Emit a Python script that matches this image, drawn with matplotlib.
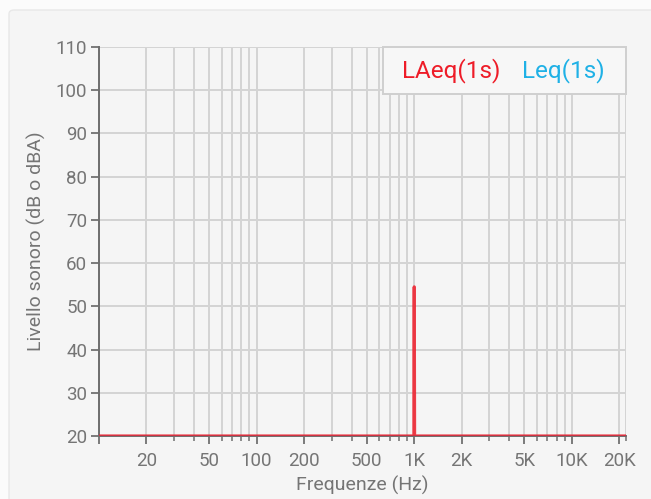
import matplotlib.pyplot as plt
from matplotlib.patches import FancyBboxPatch, Rectangle
from matplotlib.ticker import FixedLocator, NullFormatter

plt.rcParams['font.family'] = ['Roboto', 'DejaVu Sans']

# dati dello spettro (tono a 1 kHz)
frequenze = [10, 995, 1000, 1005, 22050]
laeq = [20, 20, 54.5, 20, 20]
leq = [20, 20, 20, 20, 20]

serie = ['LAeq(1s)', 'Leq(1s)']

tick_maggiori = [10, 20, 50, 100, 200, 500, 1000, 2000, 5000, 10000, 20000]
etichette = ['', '20', '50', '100', '200', '500', '1K', '2K', '5K', '10K', '20K']
tick_minori = [30, 40, 60, 70, 80, 90, 300, 400, 600, 700, 800, 900,
               3000, 4000, 6000, 7000, 8000, 9000, 22050]

rosso = '#ee1c28'
azzurro = '#1fb1e6'
grigio_testo = '#757575'

fig = plt.figure(figsize=(6.51, 4.99), dpi=100, facecolor='#fbfbfb')
card = FancyBboxPatch((9 / 651, -0.05), 1.05, 1 - 10 / 499 + 0.05,
                      boxstyle='round,pad=0,rounding_size=0.008',
                      transform=fig.transFigure, facecolor='#f5f5f5',
                      edgecolor='#e8e8e8', linewidth=1.0, zorder=-10)
fig.patches.append(card)

ax = fig.add_axes([99 / 651, 1 - 436 / 499, (626 - 99) / 651, (436 - 47) / 499])
ax.set_facecolor('#f5f5f5')

ax.plot(frequenze, leq, color=azzurro, linewidth=2, zorder=3)
ax.plot(frequenze, laeq, color=rosso, linewidth=2.3, alpha=0.85, zorder=4)

ax.set_xscale('log')
ax.set_xlim(10, 22050)
ax.set_ylim(20, 110)
ax.set_yticks(range(20, 111, 10))

ax.xaxis.set_major_locator(FixedLocator(tick_maggiori))
ax.set_xticklabels(etichette)
ax.xaxis.set_minor_locator(FixedLocator(tick_minori))
ax.xaxis.set_minor_formatter(NullFormatter())

ax.grid(True, which='both', color='#d4d4d4', linewidth=1.4, zorder=1)
ax.set_axisbelow(True)

for lato in ['top', 'right']:
    ax.spines[lato].set_visible(False)
for lato in ['left', 'bottom']:
    ax.spines[lato].set_color('#6e6e6e')
    ax.spines[lato].set_linewidth(1.4)

ax.tick_params(axis='both', which='major', length=5.5, width=1.4, color='#7a7a7a',
               labelcolor=grigio_testo, labelsize=13.5, pad=3)
ax.tick_params(axis='x', which='major', pad=6)
ax.tick_params(axis='x', which='minor', length=3.5, width=1.2, color='#7a7a7a')

ax.set_xlabel('Frequenze (Hz)', color=grigio_testo, fontsize=14, labelpad=4)
ax.set_ylabel('Livello sonoro (dB o dBA)', color=grigio_testo, fontsize=14, labelpad=7)

# legenda disegnata a mano: riquadro e testi colorati
riquadro = Rectangle((0.539, 0.879), 0.461, 0.121, transform=ax.transAxes,
                     facecolor='#f7f7f7', edgecolor='#cfcfcf', linewidth=1.4,
                     zorder=10, clip_on=False)
ax.add_patch(riquadro)
ax.text(0.575, 0.940, serie[0], transform=ax.transAxes, color=rosso,
        fontsize=17.5, va='center', ha='left', zorder=11)
ax.text(0.803, 0.940, serie[1], transform=ax.transAxes, color=azzurro,
        fontsize=17.5, va='center', ha='left', zorder=11)

fig.savefig('out.png', dpi=100, facecolor=fig.get_facecolor())
